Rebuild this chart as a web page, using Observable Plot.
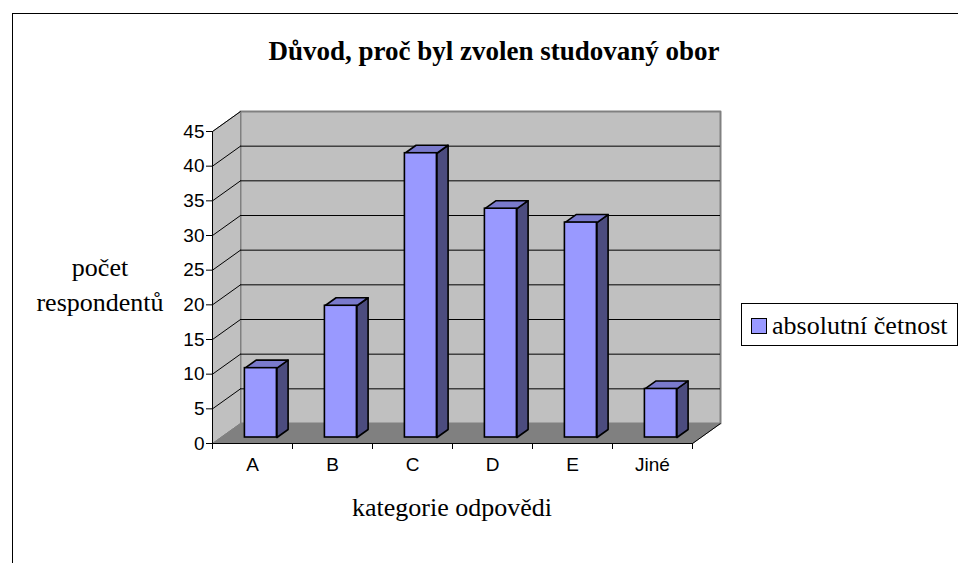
<!DOCTYPE html>
<html><head><meta charset="utf-8">
<script src="https://cdn.jsdelivr.net/npm/d3@7"></script>
<script src="https://cdn.jsdelivr.net/npm/@observablehq/plot@0.6"></script>
<style>
body{margin:0;background:#fff;}
#wrap{position:relative;width:958px;height:563px;overflow:hidden;background:#fff;}
.serif{font-family:"Liberation Serif","Times New Roman",serif;font-size:26px;line-height:26px;color:#000;position:absolute;white-space:nowrap;}
#chart svg{background:transparent;}
</style></head><body>
<div id="wrap">
  <div id="chart" style="position:absolute;left:0;top:0;"></div>
  <div style="position:absolute;left:12px;top:13px;width:1000px;height:600px;border-left:1px solid #000;border-top:1px solid #000;"></div>
  <div class="serif" id="title" style="font-weight:bold;font-size:27px;line-height:27px;left:494px;top:38px;transform:translateX(-50%);"></div>
  <div class="serif" id="ylab1" style="left:100px;top:255px;transform:translateX(-50%);"></div>
  <div class="serif" id="ylab2" style="left:100px;top:290px;transform:translateX(-50%);"></div>
  <div class="serif" id="xlab" style="left:452px;top:495px;transform:translateX(-50%);"></div>
  <div style="position:absolute;left:741px;top:303px;width:215px;height:41px;border:1px solid #000;background:#fff;"></div>
  <div id="swatch" style="position:absolute;left:751px;top:318px;width:14px;height:14px;border:1.5px solid #000;"></div>
  <div class="serif" id="legtext" style="font-family:'Liberation Serif','Times New Roman',serif;left:772px;top:313px;"></div>
</div>
<script>
const title = "Důvod, proč byl zvolen studovaný obor";
const yTitle = ["počet", "respondentů"];
const xTitle = "kategorie odpovědi";
const seriesName = "absolutní četnost";
const categories = ["A", "B", "C", "D", "E", "Jiné"];
const values = [10, 19, 41, 33, 31, 7];
const yTicks = [0, 5, 10, 15, 20, 25, 30, 35, 40, 45];

const colors = {front: "#9999ff", top: "#7a7acc", side: "#4c4c7f", wall: "#c0c0c0", floor: "#808080", edge: "#808080"};
const tickFont = "'Liberation Sans', Arial, sans-serif";
const tickSizePx = 19;

document.getElementById("title").textContent = title;
document.getElementById("ylab1").textContent = yTitle[0];
document.getElementById("ylab2").textContent = yTitle[1];
document.getElementById("xlab").textContent = xTitle;
document.getElementById("legtext").textContent = seriesName;
document.getElementById("swatch").style.background = colors.front;

const W = 958, H = 563, mL = 212, mR = 266, mT = 131, mB = 120;
const n = categories.length;
const yMax = yTicks[yTicks.length - 1];
// depth of the 3D box in pixels, converted to data units
const DX = 28 / ((W - mL - mR) / n);
const DY = 20 / ((H - mT - mB) / yMax);
const f0 = 0.3, f1 = 0.7;   // bar depth placement
const b0 = 0.3, b1 = 0.7;   // bar width inside its category

const poly = (id, pts) => pts.concat([pts[0]]).map(([x, y]) => ({id, x, y}));
const backWall = poly("back", [[DX, DY], [n + DX, DY], [n + DX, yMax + DY], [DX, yMax + DY]]);
const sideWall = poly("side", [[0, 0], [DX, DY], [DX, yMax + DY], [0, yMax]]);
const floor = poly("floor", [[0, 0], [n, 0], [n + DX, DY], [DX, DY]]);

const bars = categories.map((c, i) => ({c, i, v: values[i]}));
const ddx = (f1 - f0) * DX, ddy = (f1 - f0) * DY;
const sides = bars.flatMap(({i, v}) => {
  const x2 = i + b1 + f0 * DX, y0 = f0 * DY;
  return poly("s" + i, [[x2, y0], [x2 + ddx, y0 + ddy], [x2 + ddx, v + y0 + ddy], [x2, v + y0]]);
});
const tops = bars.flatMap(({i, v}) => {
  const x1 = i + b0 + f0 * DX, x2 = i + b1 + f0 * DX, y = v + f0 * DY;
  return poly("t" + i, [[x1, y], [x2, y], [x2 + ddx, y + ddy], [x1 + ddx, y + ddy]]);
});
const grid = yTicks.filter(t => t > 0 && t < yMax);
const diag = yTicks.filter(t => t > 0);

const plot = Plot.plot({
  width: W, height: H,
  marginLeft: mL, marginRight: mR, marginTop: mT, marginBottom: mB,
  x: {type: "linear", domain: [0, n]},
  y: {type: "linear", domain: [0, yMax]},
  style: {fontFamily: tickFont, fontSize: tickSizePx + "px", color: "#000", background: "transparent"},
  marks: [
    Plot.line(backWall, {x: "x", y: "y", z: "id", fill: colors.wall, stroke: colors.edge, strokeWidth: 2}),
    Plot.line(sideWall, {x: "x", y: "y", z: "id", fill: colors.wall, stroke: colors.edge, strokeWidth: 1}),
    Plot.line(floor, {x: "x", y: "y", z: "id", fill: colors.floor, stroke: colors.floor, strokeWidth: 1}),
    Plot.ruleY(grid, {y: t => t + DY, x1: DX, x2: n + DX, stroke: "#000", strokeWidth: 1, strokeOpacity: 1}),
    Plot.link(diag, {x1: 0, y1: t => t, x2: DX, y2: t => t + DY, stroke: "#000", strokeWidth: 1}),
    Plot.link([0], {x1: n, y1: 0, x2: n + DX, y2: DY, stroke: "#000", strokeWidth: 1}),
    Plot.line(sides, {x: "x", y: "y", z: "id", fill: colors.side, stroke: "#000", strokeWidth: 1.6, strokeLinejoin: "round"}),
    Plot.line(tops, {x: "x", y: "y", z: "id", fill: colors.top, stroke: "#000", strokeWidth: 1.6, strokeLinejoin: "round"}),
    Plot.rect(bars, {
      x1: d => d.i + b0 + f0 * DX, x2: d => d.i + b1 + f0 * DX,
      y1: f0 * DY, y2: d => d.v + f0 * DY,
      fill: colors.front, stroke: "#000", strokeWidth: 1.6, inset: 0
    }),
    Plot.ruleX([0], {y1: 0, y2: yMax, stroke: "#000", strokeWidth: 1}),
    Plot.ruleY([0], {x1: 0, x2: n, stroke: "#000", strokeWidth: 1}),
    Plot.axisY(yTicks, {anchor: "left", tickSize: 6, tickPadding: 2, label: null, stroke: "#000", fontSize: tickSizePx, fontFamily: tickFont, fill: "#000"}),
    Plot.axisX(d3.range(n + 1), {anchor: "bottom", tickSize: 6, tickFormat: () => "", label: null, stroke: "#000"}),
    Plot.axisX(d3.range(n).map(i => i + 0.5), {anchor: "bottom", tickSize: 0, tickPadding: 14, tickFormat: d => categories[Math.floor(d)], label: null, fontSize: tickSizePx, fontFamily: tickFont, fill: "#000"})
  ]
});
document.getElementById("chart").appendChild(plot);
</script>
</body></html>
